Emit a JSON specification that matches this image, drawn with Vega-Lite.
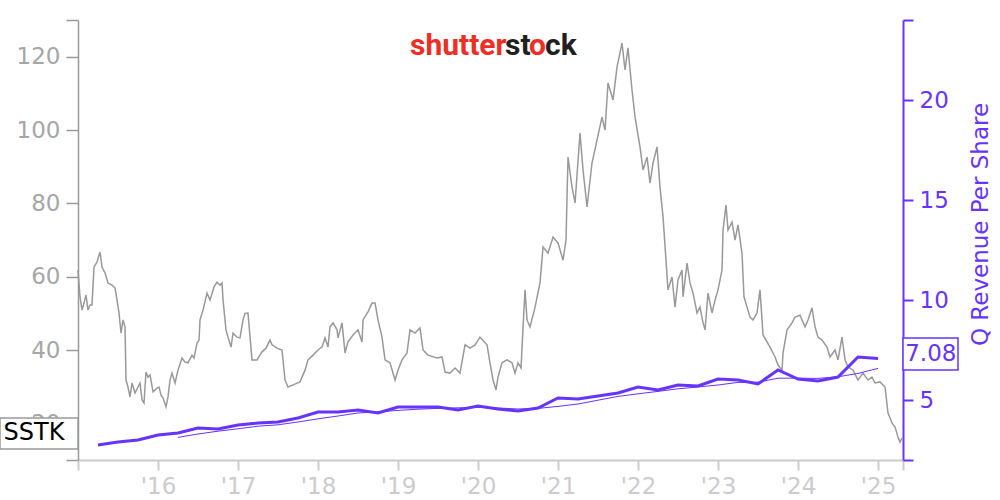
{
  "$schema": "https://vega.github.io/schema/vega-lite/v6.json",
  "width": 825,
  "height": 440,
  "autosize": {"type": "none"},
  "padding": {"left": 78, "top": 20, "right": 97, "bottom": 40},
  "background": "white",
  "config": {"view": {"stroke": null}, "font": "DejaVu Sans"},
  "datasets": {
    "price": [
      {"t":2015.000,"p":61.8},{"t":2015.025,"p":54.5},{"t":2015.050,"p":50.9},{"t":2015.075,"p":52.8},{"t":2015.100,"p":55.0},{"t":2015.125,"p":50.9},{"t":2015.150,"p":52.3},{"t":2015.175,"p":52.3},{"t":2015.200,"p":62.6},{"t":2015.238,"p":64.0},{"t":2015.263,"p":65.9},{"t":2015.275,"p":66.7},{"t":2015.300,"p":62.6},{"t":2015.338,"p":61.0},{"t":2015.375,"p":58.3},{"t":2015.425,"p":57.7},{"t":2015.463,"p":56.9},{"t":2015.488,"p":53.6},{"t":2015.513,"p":50.0},{"t":2015.538,"p":44.6},{"t":2015.563,"p":48.2},{"t":2015.588,"p":46.3},{"t":2015.600,"p":31.8},{"t":2015.625,"p":29.9},{"t":2015.650,"p":27.2},{"t":2015.675,"p":31.0},{"t":2015.713,"p":28.3},{"t":2015.750,"p":29.9},{"t":2015.775,"p":31.0},{"t":2015.800,"p":26.4},{"t":2015.825,"p":25.5},{"t":2015.850,"p":34.0},{"t":2015.875,"p":32.6},{"t":2015.900,"p":33.2},{"t":2015.938,"p":28.6},{"t":2015.988,"p":29.6},
      {"t":2016.013,"p":29.9},{"t":2016.038,"p":27.7},{"t":2016.063,"p":26.9},{"t":2016.100,"p":24.5},{"t":2016.125,"p":27.2},{"t":2016.150,"p":31.8},{"t":2016.175,"p":33.7},{"t":2016.213,"p":31.0},{"t":2016.250,"p":34.5},{"t":2016.300,"p":37.8},{"t":2016.338,"p":36.7},{"t":2016.375,"p":36.5},{"t":2016.425,"p":38.6},{"t":2016.450,"p":37.8},{"t":2016.488,"p":41.9},{"t":2016.513,"p":42.7},{"t":2016.525,"p":48.2},{"t":2016.563,"p":50.9},{"t":2016.613,"p":55.5},{"t":2016.650,"p":53.6},{"t":2016.700,"p":57.2},{"t":2016.738,"p":58.5},{"t":2016.775,"p":57.7},{"t":2016.800,"p":58.3},{"t":2016.813,"p":53.6},{"t":2016.850,"p":45.5},{"t":2016.875,"p":43.5},{"t":2016.913,"p":40.8},{"t":2016.938,"p":44.6},{"t":2016.988,"p":43.5},
      {"t":2017.025,"p":43.3},{"t":2017.063,"p":48.2},{"t":2017.088,"p":50.0},{"t":2017.125,"p":50.1},{"t":2017.175,"p":37.3},{"t":2017.238,"p":37.3},{"t":2017.300,"p":39.5},{"t":2017.350,"p":40.5},{"t":2017.400,"p":42.7},{"t":2017.425,"p":41.4},{"t":2017.488,"p":40.5},{"t":2017.550,"p":40.0},{"t":2017.588,"p":31.8},{"t":2017.625,"p":29.9},{"t":2017.688,"p":30.5},{"t":2017.775,"p":31.3},{"t":2017.838,"p":34.5},{"t":2017.875,"p":37.3},{"t":2017.938,"p":38.6},
      {"t":2018.000,"p":40.0},{"t":2018.050,"p":40.8},{"t":2018.088,"p":43.3},{"t":2018.125,"p":40.8},{"t":2018.150,"p":46.3},{"t":2018.188,"p":47.4},{"t":2018.238,"p":45.5},{"t":2018.250,"p":43.3},{"t":2018.300,"p":47.4},{"t":2018.338,"p":39.2},{"t":2018.375,"p":42.2},{"t":2018.438,"p":44.1},{"t":2018.500,"p":45.5},{"t":2018.550,"p":42.2},{"t":2018.563,"p":48.2},{"t":2018.625,"p":50.4},{"t":2018.675,"p":52.8},{"t":2018.713,"p":52.8},{"t":2018.750,"p":48.2},{"t":2018.800,"p":43.5},{"t":2018.838,"p":37.3},{"t":2018.900,"p":36.5},{"t":2018.963,"p":31.8},
      {"t":2019.000,"p":34.5},{"t":2019.050,"p":37.3},{"t":2019.113,"p":39.2},{"t":2019.150,"p":45.5},{"t":2019.213,"p":44.6},{"t":2019.275,"p":46.0},{"t":2019.313,"p":40.0},{"t":2019.375,"p":38.6},{"t":2019.488,"p":37.8},{"t":2019.550,"p":38.1},{"t":2019.588,"p":34.0},{"t":2019.650,"p":33.7},{"t":2019.713,"p":35.1},{"t":2019.775,"p":33.7},{"t":2019.838,"p":41.4},{"t":2019.900,"p":40.5},{"t":2019.963,"p":41.4},
      {"t":2020.025,"p":43.5},{"t":2020.113,"p":41.4},{"t":2020.150,"p":36.5},{"t":2020.188,"p":31.8},{"t":2020.225,"p":29.1},{"t":2020.250,"p":32.6},{"t":2020.300,"p":36.5},{"t":2020.363,"p":37.3},{"t":2020.425,"p":36.5},{"t":2020.463,"p":33.7},{"t":2020.500,"p":36.5},{"t":2020.538,"p":35.1},{"t":2020.563,"p":46.3},{"t":2020.588,"p":56.4},{"t":2020.613,"p":48.2},{"t":2020.650,"p":46.3},{"t":2020.713,"p":51.7},{"t":2020.775,"p":58.3},{"t":2020.813,"p":68.1},{"t":2020.875,"p":66.4},{"t":2020.938,"p":70.8},
      {"t":2021.000,"p":69.2},{"t":2021.063,"p":64.5},{"t":2021.100,"p":70.0},{"t":2021.125,"p":92.6},{"t":2021.175,"p":84.4},{"t":2021.213,"p":80.1},{"t":2021.275,"p":99.2},{"t":2021.313,"p":89.1},{"t":2021.363,"p":79.0},{"t":2021.425,"p":91.0},{"t":2021.488,"p":97.3},{"t":2021.550,"p":103.5},{"t":2021.588,"p":100.0},{"t":2021.625,"p":112.8},{"t":2021.688,"p":108.2},{"t":2021.738,"p":117.2},{"t":2021.800,"p":123.7},{"t":2021.838,"p":116.4},{"t":2021.875,"p":122.4},{"t":2021.925,"p":110.9},{"t":2021.963,"p":103.5},
      {"t":2022.025,"p":95.4},{"t":2022.063,"p":89.1},{"t":2022.113,"p":92.6},{"t":2022.150,"p":85.5},{"t":2022.188,"p":91.0},{"t":2022.238,"p":95.4},{"t":2022.275,"p":84.4},{"t":2022.313,"p":76.3},{"t":2022.350,"p":64.5},{"t":2022.375,"p":56.4},{"t":2022.425,"p":59.9},{"t":2022.463,"p":51.7},{"t":2022.500,"p":59.1},{"t":2022.550,"p":61.8},{"t":2022.563,"p":54.5},{"t":2022.613,"p":63.7},{"t":2022.650,"p":58.3},{"t":2022.688,"p":55.5},{"t":2022.738,"p":50.1},{"t":2022.775,"p":51.7},{"t":2022.813,"p":47.4},{"t":2022.838,"p":45.5},{"t":2022.875,"p":55.5},{"t":2022.925,"p":50.1},{"t":2022.963,"p":53.6},
      {"t":2023.000,"p":56.4},{"t":2023.050,"p":61.8},{"t":2023.063,"p":72.7},{"t":2023.100,"p":79.5},{"t":2023.125,"p":72.7},{"t":2023.175,"p":74.9},{"t":2023.213,"p":70.0},{"t":2023.250,"p":74.1},{"t":2023.300,"p":66.4},{"t":2023.325,"p":54.5},{"t":2023.363,"p":51.7},{"t":2023.400,"p":49.0},{"t":2023.438,"p":48.2},{"t":2023.488,"p":50.1},{"t":2023.525,"p":56.4},{"t":2023.563,"p":44.1},{"t":2023.650,"p":40.8},{"t":2023.713,"p":38.1},{"t":2023.750,"p":35.9},{"t":2023.800,"p":34.5},{"t":2023.813,"p":39.2},{"t":2023.863,"p":45.5},{"t":2023.925,"p":47.4},{"t":2023.963,"p":49.0},
      {"t":2024.025,"p":49.5},{"t":2024.088,"p":46.3},{"t":2024.125,"p":48.2},{"t":2024.175,"p":51.5},{"t":2024.213,"p":46.3},{"t":2024.250,"p":43.5},{"t":2024.300,"p":42.7},{"t":2024.363,"p":40.8},{"t":2024.400,"p":38.1},{"t":2024.463,"p":40.0},{"t":2024.500,"p":37.3},{"t":2024.550,"p":43.5},{"t":2024.588,"p":37.3},{"t":2024.625,"p":35.4},{"t":2024.688,"p":34.5},{"t":2024.750,"p":31.8},{"t":2024.813,"p":33.7},{"t":2024.875,"p":31.8},{"t":2024.925,"p":32.6},{"t":2024.963,"p":31.0},
      {"t":2025.025,"p":31.3},{"t":2025.088,"p":29.9},{"t":2025.125,"p":22.8},{"t":2025.175,"p":20.1},{"t":2025.213,"p":19.0},{"t":2025.250,"p":16.3},{"t":2025.275,"p":14.9},{"t":2025.300,"p":16.0}
    ],
    "rev": [
      {"t":2015.25,"rev":2.75,"ttm":null},{"t":2015.5,"rev":2.9,"ttm":null},{"t":2015.75,"rev":3.0,"ttm":null},{"t":2016.0,"rev":3.25,"ttm":null},
      {"t":2016.25,"rev":3.35,"ttm":3.13},{"t":2016.5,"rev":3.6,"ttm":3.3},{"t":2016.75,"rev":3.55,"ttm":3.44},{"t":2017.0,"rev":3.75,"ttm":3.56},
      {"t":2017.25,"rev":3.85,"ttm":3.69},{"t":2017.5,"rev":3.9,"ttm":3.76},{"t":2017.75,"rev":4.1,"ttm":3.9},{"t":2018.0,"rev":4.4,"ttm":4.06},
      {"t":2018.25,"rev":4.4,"ttm":4.2},{"t":2018.5,"rev":4.5,"ttm":4.35},{"t":2018.75,"rev":4.35,"ttm":4.41},{"t":2019.0,"rev":4.65,"ttm":4.48},
      {"t":2019.25,"rev":4.65,"ttm":4.54},{"t":2019.5,"rev":4.65,"ttm":4.58},{"t":2019.75,"rev":4.5,"ttm":4.61},{"t":2020.0,"rev":4.7,"ttm":4.63},
      {"t":2020.25,"rev":4.55,"ttm":4.6},{"t":2020.5,"rev":4.45,"ttm":4.55},{"t":2020.75,"rev":4.6,"ttm":4.58},{"t":2021.0,"rev":5.1,"ttm":4.68},
      {"t":2021.25,"rev":5.05,"ttm":4.8},{"t":2021.5,"rev":5.2,"ttm":4.99},{"t":2021.75,"rev":5.35,"ttm":5.18},{"t":2022.0,"rev":5.65,"ttm":5.31},
      {"t":2022.25,"rev":5.5,"ttm":5.43},{"t":2022.5,"rev":5.75,"ttm":5.56},{"t":2022.75,"rev":5.7,"ttm":5.65},{"t":2023.0,"rev":6.05,"ttm":5.75},
      {"t":2023.25,"rev":6.0,"ttm":5.88},{"t":2023.5,"rev":5.8,"ttm":5.89},{"t":2023.75,"rev":6.5,"ttm":6.09},{"t":2024.0,"rev":6.05,"ttm":6.09},
      {"t":2024.25,"rev":5.95,"ttm":6.08},{"t":2024.5,"rev":6.15,"ttm":6.16},{"t":2024.75,"rev":7.15,"ttm":6.33},{"t":2025.0,"rev":7.08,"ttm":6.58}
    ]
  },
  "layer": [
    {
      "layer": [
        {
          "data": {"name": "price"},
          "mark": {"type": "line", "color": "#999999", "strokeWidth": 1.5},
          "encoding": {
            "x": {"field": "t", "type": "quantitative",
              "scale": {"domain": [2015, 2025.3125], "nice": false, "zero": false},
              "axis": {"values": [2015,2016,2017,2018,2019,2020,2021,2022,2023,2024,2025,2025.3125],
                "labelExpr": "datum.value < 2015.5 || datum.value > 2025.2 ? '' : \"'\" + substring(toString(datum.value), 2, 4)",
                "domainColor": "#cccccc", "domainWidth": 2, "tickColor": "#cccccc", "tickWidth": 2, "tickSize": 10,
                "labelColor": "#cccccc", "labelFontSize": 23, "labelPadding": 5, "labelFlush": false, "labelOverlap": false,
                "grid": false, "title": null, "zindex": 0}},
            "y": {"field": "p", "type": "quantitative",
              "scale": {"domain": [10, 130], "nice": false, "zero": false},
              "axis": {"orient": "left", "values": [10,20,40,60,80,100,120,130],
                "labelExpr": "datum.value == 10 || datum.value == 130 ? '' : datum.label",
                "domainColor": "#999999", "domainWidth": 1.5, "tickColor": "#999999", "tickWidth": 1.5, "tickSize": 12,
                "labelColor": "#a6a6a6", "labelFontSize": 23, "labelPadding": 6, "labelFlush": false, "labelOverlap": false,
                "grid": false, "title": null, "zindex": 0}}
          }
        },
        {
          "data": {"values": [{"t0": 2014.025, "t1": 2015.0, "lo": 13.0, "hi": 21.45}]},
          "mark": {"type": "rect", "fill": "white", "stroke": "#999999", "strokeWidth": 1.5},
          "encoding": {
            "x": {"field": "t0", "type": "quantitative", "axis": {"title": null}},
            "x2": {"field": "t1"},
            "y": {"field": "lo", "type": "quantitative", "axis": {"title": null}},
            "y2": {"field": "hi"}
          }
        },
        {
          "data": {"values": [{"t": 2014.07, "p": 17.3, "txt": "SSTK"}]},
          "mark": {"type": "text", "align": "left", "baseline": "middle", "fontSize": 24, "color": "#000000"},
          "encoding": {
            "x": {"field": "t", "type": "quantitative", "axis": {"title": null}},
            "y": {"field": "p", "type": "quantitative", "axis": {"title": null}},
            "text": {"field": "txt"}
          }
        },
        {
          "data": {"values": [{"t": 2019.15, "p": 120.45, "txt": "shutter"}]},
          "mark": {"type": "text", "align": "left", "baseline": "alphabetic", "font": "Roboto", "fontWeight": "bold", "fontSize": 30, "color": "#ee2e24"},
          "encoding": {"x": {"field": "t", "type": "quantitative", "axis": {"title": null}}, "y": {"field": "p", "type": "quantitative", "axis": {"title": null}}, "text": {"field": "txt"}}
        },
        {
          "data": {"values": [{"t": 2020.3375, "p": 120.45, "txt": "st"}]},
          "mark": {"type": "text", "align": "left", "baseline": "alphabetic", "font": "Roboto", "fontWeight": "bold", "fontSize": 30, "color": "#231f20"},
          "encoding": {"x": {"field": "t", "type": "quantitative", "axis": {"title": null}}, "y": {"field": "p", "type": "quantitative", "axis": {"title": null}}, "text": {"field": "txt"}}
        },
        {
          "data": {"values": [{"t": 2020.6375, "p": 120.45, "txt": "o"}]},
          "mark": {"type": "text", "align": "left", "baseline": "alphabetic", "font": "Roboto", "fontWeight": "bold", "fontSize": 30, "color": "#ee2e24"},
          "encoding": {"x": {"field": "t", "type": "quantitative", "axis": {"title": null}}, "y": {"field": "p", "type": "quantitative", "axis": {"title": null}}, "text": {"field": "txt"}}
        },
        {
          "data": {"values": [{"t": 2020.8375, "p": 120.45, "txt": "ck"}]},
          "mark": {"type": "text", "align": "left", "baseline": "alphabetic", "font": "Roboto", "fontWeight": "bold", "fontSize": 30, "color": "#231f20"},
          "encoding": {"x": {"field": "t", "type": "quantitative", "axis": {"title": null}}, "y": {"field": "p", "type": "quantitative", "axis": {"title": null}}, "text": {"field": "txt"}}
        }
      ]
    },
    {
      "layer": [
        {
          "data": {"name": "rev"},
          "mark": {"type": "line", "color": "#6633ff", "strokeWidth": 1},
          "encoding": {
            "x": {"field": "t", "type": "quantitative", "axis": {"title": null}},
            "y": {"field": "ttm", "type": "quantitative",
              "scale": {"domain": [2, 24], "nice": false, "zero": false},
              "axis": {"orient": "right", "values": [2,5,10,15,20,24],
                "labelExpr": "datum.value == 2 || datum.value == 24 ? '' : datum.label",
                "domainColor": "#6633ff", "domainWidth": 2, "tickColor": "#6633ff", "tickWidth": 2, "tickSize": 10,
                "labelColor": "#6633ff", "labelFontSize": 23, "labelPadding": 6, "labelFlush": false, "labelOverlap": false,
                "grid": false, "title": "Q Revenue Per Share", "titleColor": "#6633ff", "titleFontSize": 23, "titleFontWeight": "normal",
                "titleAngle": 270, "titleX": 77, "titleY": 204, "titleAlign": "center", "titleBaseline": "middle", "zindex": 0}}
          }
        },
        {
          "data": {"name": "rev"},
          "mark": {"type": "line", "color": "#6633ff", "strokeWidth": 3},
          "encoding": {
            "x": {"field": "t", "type": "quantitative", "axis": {"title": null}},
            "y": {"field": "rev", "type": "quantitative"}
          }
        },
        {
          "data": {"values": [{"t0": 2025.3125, "t1": 2026.0, "lo": 6.5, "hi": 8.1}]},
          "mark": {"type": "rect", "fill": "white", "stroke": "#6633ff", "strokeWidth": 1.5},
          "encoding": {
            "x": {"field": "t0", "type": "quantitative", "axis": {"title": null}},
            "x2": {"field": "t1"},
            "y": {"field": "lo", "type": "quantitative"},
            "y2": {"field": "hi"}
          }
        },
        {
          "data": {"values": [{"t": 2025.34, "v": 7.3, "txt": "7.08"}]},
          "mark": {"type": "text", "align": "left", "baseline": "middle", "fontSize": 23, "color": "#6633ff"},
          "encoding": {
            "x": {"field": "t", "type": "quantitative", "axis": {"title": null}},
            "y": {"field": "v", "type": "quantitative"},
            "text": {"field": "txt"}
          }
        }
      ]
    }
  ],
  "resolve": {"scale": {"y": "independent"}}
}
